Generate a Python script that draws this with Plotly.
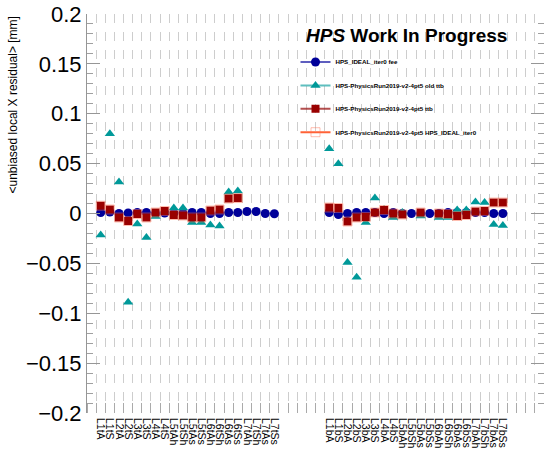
import plotly.graph_objects as go

# ---------------- data ----------------
labels_top = ["L1tA", "L1tS", "L2tA", "L2tS", "L3tA", "L3tS", "L4tA", "L4tS",
              "L5tAh", "L5tSh", "L5tAs", "L5tSs", "L6tAh", "L6tSh", "L6tAs", "L6tSs",
              "L7tAh", "L7tSh", "L7tAs", "L7tSs"]
labels_bot = ["L1bA", "L1bS", "L2bA", "L2bS", "L3bA", "L3bS", "L4bA", "L4bS",
              "L5bAh", "L5bSh", "L5bAs", "L5bSs", "L6bAh", "L6bSh", "L6bAs", "L6bSs",
              "L7bAh", "L7bSh", "L7bAs", "L7bSs"]
# bin layout of the histogram: empty, 20 top, 5 empty, 20 bottom, 4 empty
categories = [""] + labels_top + [""] * 5 + labels_bot + [""] * 4

ideal_fee_top = [0.001, 0.0015, 0.0, 0.0005, 0.001, 0.001, 0.0, 0.0005, 0.0005, 0.0005,
                 0.001, 0.001, 0.0, 0.0, 0.001, 0.001, 0.002, 0.002, 0.0, -0.0003]
ideal_fee_bot = [0.001, -0.001, 0.0, 0.001, 0.001, 0.001, 0.0, 0.001, 0.0, 0.0,
                 0.0, 0.0, 0.0, 0.001, 0.001, 0.001, 0.001, 0.001, 0.0, 0.0]

old_ttb_top = [-0.0215, 0.080, 0.0316, -0.089, -0.0105, -0.024, -0.003, 0.002, 0.0055, 0.0055,
               -0.009, -0.009, -0.0115, -0.0125, 0.0215, 0.0225, None, None, None, None]
old_ttb_bot = [0.0648, 0.050, -0.049, -0.064, -0.009, 0.0155, 0.004, -0.004, 0.001, None,
               -0.0025, None, -0.004, -0.004, 0.0035, 0.0035, 0.0115, 0.011, -0.011, -0.012]

ttb_top = [0.0078, 0.004, -0.004, -0.0075, -0.0005, -0.004, 0.001, 0.0025, -0.0015, -0.002,
           -0.004, -0.004, 0.003, 0.004, 0.015, 0.0155, None, None, None, None]
ttb_bot = [0.006, 0.0055, -0.008, -0.004, -0.0035, 0.001, 0.0035, 0.0, -0.001, None,
           0.001, None, 0.0, -0.0005, -0.0025, -0.0015, 0.002, 0.0025, 0.011, 0.011]

ttb_ideal_top = [0.0078, 0.004, -0.004, -0.0075, -0.0005, -0.004, 0.001, 0.0025, -0.0015, -0.002,
                 -0.004, -0.004, 0.003, 0.004, 0.015, 0.0155, None, None, None, None]
ttb_ideal_bot = [0.006, 0.0055, -0.008, -0.004, -0.0035, 0.001, 0.0035, 0.0, -0.001, None,
                 0.001, None, 0.0, -0.0005, -0.0025, -0.0015, 0.002, 0.0025, 0.011, 0.011]

series_names = ["HPS_IDEAL_iter0 fee",
                "HPS-PhysicsRun2019-v2-4pt5 old ttb",
                "HPS-PhysicsRun2019-v2-4pt5 ttb",
                "HPS-PhysicsRun2019-v2-4pt5 HPS_IDEAL_iter0"]

y_ticks = [-0.2, -0.15, -0.1, -0.05, 0, 0.05, 0.1, 0.15, 0.2]
y_ticktext = ["\u22120.2", "\u22120.15", "\u22120.1", "\u22120.05", "0", "0.05", "0.1", "0.15", "0.2"]

# ---------------- positions ----------------
x_labels = labels_top + labels_bot
x_pos = [categories.index(l) for l in x_labels]

FONT = "Liberation Sans, Arial, Helvetica, sans-serif"

series = [
    (ideal_fee_top + ideal_fee_bot, dict(symbol="circle", size=9, color="rgb(0,0,153)",
                                         line=dict(width=0)), "rgba(40,40,170,0.75)"),
    (old_ttb_top + old_ttb_bot, dict(symbol="triangle-up", size=9, color="rgb(0,153,153)",
                                     line=dict(width=0)), "rgba(40,170,170,0.75)"),
    (ttb_top + ttb_bot, dict(symbol="square", size=8, color="rgb(153,0,0)",
                             line=dict(width=0)), "rgba(153,20,20,0.75)"),
    (ttb_ideal_top + ttb_ideal_bot, dict(symbol="square-open", size=9,
                                         color="rgba(255,110,80,0.45)",
                                         line=dict(width=1)), "rgba(255,70,20,0.85)"),
]

fig = go.Figure()
for i, (vals, mk, lcol) in enumerate(series):
    fig.add_trace(go.Scatter(x=x_pos, y=vals, mode="markers", marker=mk,
                             showlegend=False, hoverinfo="skip"))
for i, (vals, mk, lcol) in enumerate(series):
    fig.add_trace(go.Scatter(x=[None], y=[None], mode="lines+markers", marker=mk,
                             line=dict(color=lcol, width=2),
                             name="<b>" + series_names[i] + "</b>",
                             legendgroup="g%d" % i, showlegend=True))

W, H = 544, 452
ml, mr, mt, mb = 87, 0, 14, 39
pw, ph = W - ml - mr, H - mt - mb


def px_x(px):
    return (px - ml) / pw


def px_y(py):
    return (H - mb - py) / ph


fig.update_layout(
    width=W, height=H,
    margin=dict(l=ml, r=mr, t=mt, b=mb, autoexpand=False),
    paper_bgcolor="white", plot_bgcolor="white",
    font=dict(family=FONT, color="black"),
    xaxis=dict(
        range=[-0.5, len(categories) - 0.5],
        tickmode="array", tickvals=x_pos, ticktext=x_labels,
        tickangle=90, tickfont=dict(size=10.5, family=FONT, color="black"),
        ticklabelstandoff=4,
        showgrid=False, zeroline=False, ticks="", automargin=False,
        showline=False,
        minor=dict(tick0=0.5, dtick=1, showgrid=True, gridcolor="rgb(205,205,205)",
                   griddash="dash", gridwidth=1, ticks="inside", ticklen=10,
                   tickcolor="rgb(170,170,170)"),
    ),
    yaxis=dict(
        range=[-0.2, 0.2], tickmode="array", tickvals=y_ticks, ticktext=y_ticktext,
        tickfont=dict(size=22, family=FONT, color="black"),
        ticks="inside", ticklen=13, tickcolor="rgb(150,150,150)",
        showline=True, linecolor="rgb(150,150,150)", linewidth=1, mirror="ticks",
        showgrid=False, zeroline=False, automargin=False,
        minor=dict(dtick=0.01, tick0=0, ticks="inside", ticklen=6,
                   tickcolor="rgb(160,160,160)", showgrid=False),
    ),
    legend=dict(x=px_x(295.5), y=px_y(47.5), xanchor="left", yanchor="top",
                bgcolor="rgba(0,0,0,0)", borderwidth=0,
                font=dict(size=6.2, family=FONT, color="black"),
                traceorder="grouped", tracegroupgap=4.4, itemsizing="trace"),
    annotations=[
        dict(text="&lt;unbiased local X residual&gt; [mm]", xref="paper", yref="paper",
             x=px_x(12), y=px_y(15), xanchor="center", yanchor="top", textangle=-90,
             showarrow=False, font=dict(size=12, family=FONT, color="black")),
        dict(text="<b><i>HPS</i> Work In Progress</b>", xref="paper", yref="paper",
             x=px_x(406.5), y=px_y(35), xanchor="center", yanchor="middle",
             showarrow=False, font=dict(size=19, family=FONT, color="black")),
    ],
)

fig.write_html("out.html")
